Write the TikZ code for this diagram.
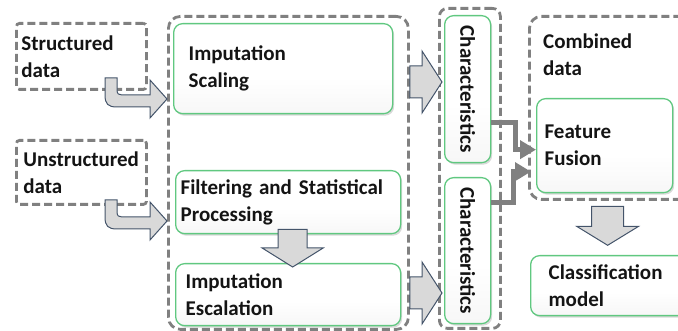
\documentclass[tikz,border=0pt]{standalone}
\usepackage{fontspec}
\setmainfont{Carlito}
\usepackage{graphicx}
\usetikzlibrary{arrows.meta,shadows,calc}

\definecolor{boxgreen}{RGB}{96,200,128}
\definecolor{dashgray}{RGB}{128,128,128}
\definecolor{blockfill}{RGB}{217,217,217}
\definecolor{blockline}{RGB}{68,84,106}
\definecolor{conngray}{RGB}{128,128,128}
\definecolor{txt}{RGB}{20,20,20}

% shading: white over most of the box, greying towards the bottom edge
\pgfdeclareverticalshading{boxfade}{100bp}{
  color(0bp)=(black!12); color(20bp)=(black!4); color(45bp)=(white);
  color(85bp)=(white); color(100bp)=(black!3)}

\tikzset{
  lbl/.style={font=\fontsize{21}{27}\selectfont\bfseries, text=txt},
  stagebox/.style={lbl, draw=boxgreen, line width=1.3pt, rounded corners=9pt,
    shading=boxfade,
    drop shadow={shadow xshift=1.5pt, shadow yshift=-2pt, opacity=0.3},
    anchor=north west, align=left, inner ysep=0pt},
  dashbox/.style={draw=dashgray, line width=2.8pt, dash pattern=on 8pt off 4pt},
  block/.style={fill=blockfill, draw=blockline, line width=1pt, line join=miter},
  conn/.style={draw=conngray, line width=5pt, line join=miter,
    -{Triangle[width=18pt,length=16pt]}},
}

% block arrow pointing right: tail, tip, half shaft, half head, head length
\newcommand\BlockRight[5]{%
  \filldraw[block] let \p1=#1, \p2=#2 in
    (\x1,\y2+#3pt) -- (\x2-#5pt,\y2+#3pt) -- (\x2-#5pt,\y2+#4pt) -- (\x2,\y2)
    -- (\x2-#5pt,\y2-#4pt) -- (\x2-#5pt,\y2-#3pt) -- (\x1,\y2-#3pt) -- cycle;}
% block arrow pointing down: tail, tip, half shaft, half head, head length
\newcommand\BlockDown[5]{%
  \filldraw[block] let \p1=#1, \p2=#2 in
    (\x2-#3pt,\y1) -- (\x2-#3pt,\y2+#5pt) -- (\x2-#4pt,\y2+#5pt) -- (\x2,\y2)
    -- (\x2+#4pt,\y2+#5pt) -- (\x2+#3pt,\y2+#5pt) -- (\x2+#3pt,\y1) -- cycle;}
% bent (down then right) block arrow, origin at the top left of its tail
\newcommand\BentArrow[1]{%
  \begin{scope}[shift={#1}]
    \filldraw[block] (0,0) -- (0,17) .. controls (0,26) and (3,29) .. (12,29)
      -- (45,29) -- (45,40) -- (62,21) -- (45,2) -- (45,17) -- (17,17)
      .. controls (14,17) and (12,16) .. (12,12) -- (12,0) -- cycle;
  \end{scope}}

\begin{document}
\begin{tikzpicture}[x=1pt,y=-1pt]
\path[use as bounding box, clip] (0,0) rectangle (678,331);

% dashed groups
\node[dashbox, rounded corners=12pt, anchor=north west, inner sep=0pt,
  minimum width=240pt, minimum height=313pt] (prep) at (167,15) {};
\node[dashbox, rounded corners=8pt, anchor=north west, inner sep=0pt,
  minimum width=61pt, minimum height=320pt] (chars) at (438,7) {};
\node[dashbox, rounded corners=12pt, anchor=north west, inner sep=0pt,
  minimum width=200pt, minimum height=183pt] (combined) at (528,15) {};
\node[lbl, anchor=west, align=left, inner sep=0pt] (combinedlbl) at (543,55)
  {Combined\\data};

% data sources
\node[dashbox, lbl, rounded corners=3pt, anchor=north west, align=left,
  text width=120pt, inner xsep=5pt, inner ysep=0pt, minimum height=66pt]
  (struct) at (15,22) {Structured\\data};
\node[dashbox, lbl, rounded corners=3pt, anchor=north west, align=left,
  text width=116pt, inner xsep=7pt, inner ysep=0pt, minimum height=64pt]
  (unstruct) at (15,139) {Unstructured\\data};

% processing stages
\node[stagebox, text width=189pt, inner xsep=15pt, minimum height=90pt]
  (imp) at (173,23) {Imputation\\Scaling};
\node[stagebox, text width=215pt, inner xsep=5pt, minimum height=63pt]
  (filt) at (175,170) {Filtering and Statistical\\Processing};
\node[stagebox, text width=205pt, inner xsep=10pt, minimum height=62pt]
  (esc) at (175,263) {Imputation\\Escalation};
\node[stagebox, inner sep=0pt, minimum width=46pt, minimum height=147pt]
  (ch1) at (444,15) {\rotatebox{-90}{Characteristics}};
\node[stagebox, inner sep=0pt, minimum width=46pt, minimum height=146pt]
  (ch2) at (444,177) {\rotatebox{-90}{Characteristics}};
\node[stagebox, text width=120pt, inner xsep=8pt, minimum height=94pt]
  (fusion) at (536,98) {Feature\\Fusion};
\node[stagebox, text width=134pt, inner xsep=18pt, minimum height=60pt]
  (cls) at (530,255) {Classification\\model};

% block arrows
\BentArrow{(105,78)}
\BentArrow{(105,200)}
\BlockRight{(prep.east |- 0,82)}{([xshift=4pt]chars.west |- 0,82)}{16}{31}{20}
\BlockRight{(prep.east |- 0,293)}{([xshift=4pt]chars.west |- 0,293)}{16}{31}{20}
\BlockDown{([xshift=4.5pt,yshift=5pt]filt.south)}{([xshift=4.5pt,yshift=-4pt]esc.north)}{14.5}{30.5}{19}
\BlockDown{([xshift=3pt,yshift=-13pt]fusion.south)}{([xshift=3pt,yshift=-52pt]fusion.south)}{16}{31}{19}

% feature connectors
\draw[conn] ([yshift=-33.5pt]ch1.east) -- ++(24,0) |- ([yshift=-4pt]fusion.west);
\draw[conn, shorten >=5pt] ([yshift=48pt]ch2.east) -- ++(22,0) |- ([yshift=-26pt]fusion.west);
\end{tikzpicture}
\end{document}
